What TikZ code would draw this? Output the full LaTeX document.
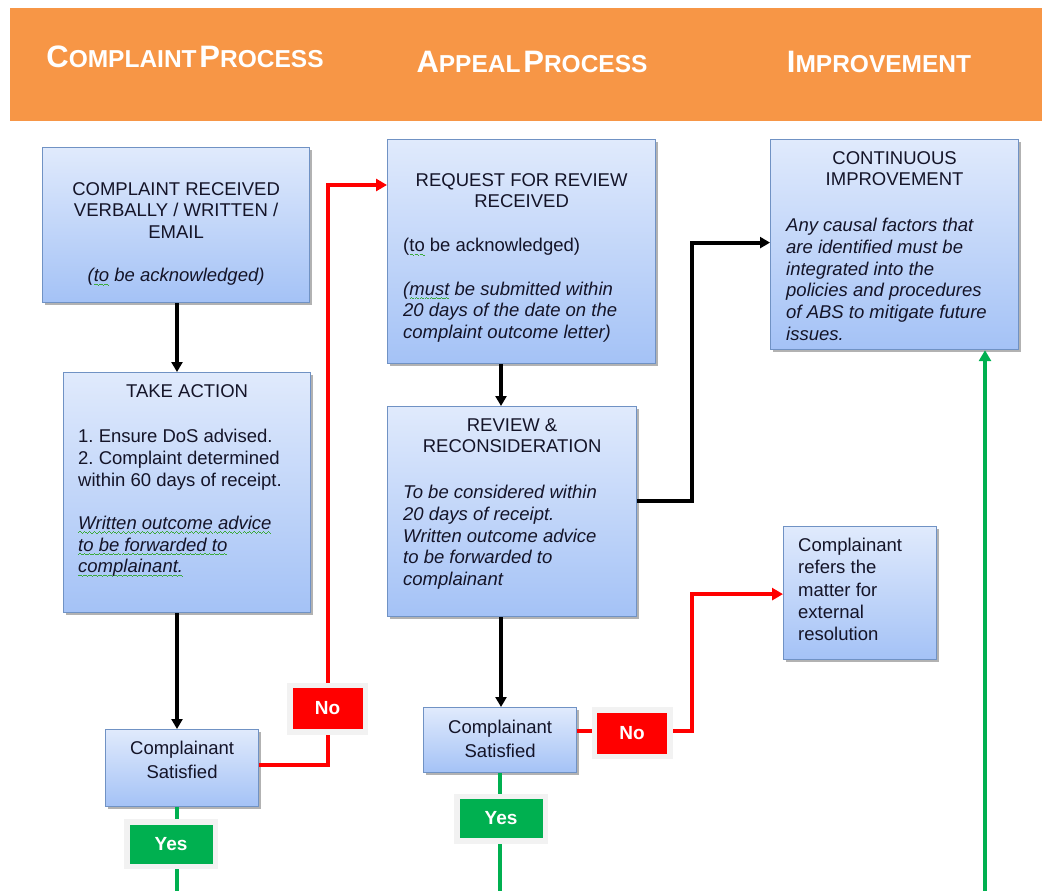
\documentclass[tikz,border=0pt]{standalone}
\usepackage{fontspec}
\setmainfont{Liberation Sans}
\usetikzlibrary{arrows.meta,calc,shadows}

\definecolor{hdr}{RGB}{247,150,70}
\definecolor{boxtop}{RGB}{224,234,252}
\definecolor{boxbot}{RGB}{164,194,246}
\definecolor{boxline}{RGB}{112,146,196}
\definecolor{nored}{RGB}{255,0,0}
\definecolor{yesgreen}{RGB}{0,176,80}
\definecolor{txtc}{RGB}{20,20,40}
\definecolor{spellg}{RGB}{60,170,60}

\newcommand\HeadSC[2]{{\fontsize{31}{31}\selectfont #1}{\fontsize{24.5}{24.5}\selectfont #2}}
\newsavebox\gwavebox
\newcommand\gwavecell{\hbox{\rule[-3.4pt]{1.2pt}{0.9pt}\rule[-2.8pt]{1.2pt}{0.9pt}\rule[-3.4pt]{1.2pt}{0.9pt}\rule[-4.0pt]{1.2pt}{0.9pt}}}
\newcommand\gwave[1]{\leavevmode\sbox\gwavebox{#1}\rlap{\textcolor{spellg}{\xleaders\gwavecell\hskip\wd\gwavebox}}\usebox\gwavebox}

\begin{document}
\begin{tikzpicture}[x=1pt,y=-1pt,
  box/.style={draw=boxline, line width=1.2pt, top color=boxtop, bottom color=boxbot,
    anchor=north west, inner sep=0pt,
    drop shadow={shadow xshift=2.5pt, shadow yshift=-2.5pt, fill=black, opacity=0.3}},
  txt/.style={inner sep=0pt, text=txtc, font=\frenchspacing\fontsize{18.5}{21.7}\selectfont},
  ctxt/.style={txt, align=center, anchor=north},
  ltxt/.style={txt, align=left, anchor=north west},
  htxt/.style={inner sep=0pt, text=white, font=\bfseries, anchor=base},
  lbl/.style={line width=5.5pt, draw=black!5, inner sep=0pt, text=white,
    font=\bfseries\fontsize{19}{19}\selectfont,
    drop shadow={shadow xshift=3pt, shadow yshift=-3pt, fill=black!50!olive, opacity=0.45}},
  nolbl/.style={lbl, fill=nored, minimum width=75.5pt, minimum height=46.5pt},
  yeslbl/.style={lbl, fill=yesgreen, minimum width=88.5pt, minimum height=44.5pt},
  blk/.style={draw=black, line width=4pt, -{Triangle[length=10pt,width=11pt]}},
  redl/.style={draw=nored, line width=4pt},
  redarr/.style={redl, -{Triangle[length=11pt,width=12pt]}},
  grnl/.style={draw=yesgreen, line width=3.8pt},
  grnarr/.style={grnl, -{Triangle[length=11pt,width=12pt]}}
]
\useasboundingbox (0,0) rectangle (1042,891);

% header band
\fill[hdr] (10,8) rectangle (1042,121);
\node[htxt] (h1) at (185,68) {\HeadSC{C}{OMPLAINT} \HeadSC{P}{ROCESS}};
\node[htxt] (h2) at (532,73) {\HeadSC{A}{PPEAL} \HeadSC{P}{ROCESS}};
\node[htxt] (h3) at (879,73) {\HeadSC{I}{MPROVEMENT}};

% column coordinates
\coordinate (colL) at (177,0);
\coordinate (colM) at (501,0);
\coordinate (colR) at (985,0);
\coordinate (endL) at (177,891);
\coordinate (endM) at (500,891);
\coordinate (endR) at (985,891);

% boxes
\node[box, minimum width=267pt, minimum height=155pt] (b1) at (42,147) {};
\node[box, minimum width=247pt, minimum height=240pt] (b2) at (63,372) {};
\node[box, minimum width=153pt, minimum height=77pt] (b3) at (105,729) {};
\node[box, minimum width=268pt, minimum height=224pt] (b4) at (387,139) {};
\node[box, minimum width=249pt, minimum height=210pt] (b5) at (387,406) {};
\node[box, minimum width=248pt, minimum height=210pt] (b6) at (770,139) {};
\node[box, minimum width=153pt, minimum height=133pt] (b7) at (783,526) {};
\node[box, minimum width=153pt, minimum height=65pt] (b8) at (423,707) {};

% box texts
\node[ctxt] (t1) at ($(b1.north)+(0,35)$) {COMPLAINT RECEIVED\\VERBALLY / WRITTEN /\\EMAIL\\[21.7pt]\textit{(\gwave{to} be acknowledged)}};
\node[ctxt] (t2a) at ($(b2.north)+(0,12)$) {TAKE ACTION};
\node[ltxt] (t2b) at (78,429) {1. Ensure DoS advised.\\2. Complaint determined\\within 60 days of receipt.\\[21.7pt]\textit{\gwave{Written outcome advice}}\\\textit{\gwave{to be forwarded to}}\\\textit{\gwave{complainant.}}};
\node[ctxt, font=\fontsize{18.5}{23.5}\selectfont] (t3) at ($(b3.north)+(0,12)$) {Complainant\\Satisfied};
\node[ctxt] (t4a) at ($(b4.north)+(0,34)$) {REQUEST FOR REVIEW\\RECEIVED};
\node[ltxt] (t4b) at (403,238) {(\gwave{to} be acknowledged)\\[21.7pt]\textit{(\gwave{must} be submitted within}\\\textit{20 days of the date on the}\\\textit{complaint outcome letter)}};
\node[ctxt] (t5a) at ($(b5.north)+(0,12)$) {REVIEW \&\\RECONSIDERATION};
\node[ltxt] (t5b) at (403,485) {\textit{To be considered within}\\\textit{20 days of receipt.}\\\textit{Written outcome advice}\\\textit{to be forwarded to}\\\textit{complainant}};
\node[ctxt] (t6a) at ($(b6.north)+(0,12)$) {CONTINUOUS\\IMPROVEMENT};
\node[ltxt] (t6b) at (786,218) {\textit{Any causal factors that}\\\textit{are identified must be}\\\textit{integrated into the}\\\textit{policies and procedures}\\\textit{of ABS to mitigate future}\\\textit{issues.}};
\node[ltxt, font=\fontsize{18.5}{22.2}\selectfont] (t7) at (798,538) {Complainant\\refers the\\matter for\\external\\resolution};
\node[ctxt, font=\fontsize{18.5}{23.5}\selectfont] (t8) at ($(b8.north)+(0,13)$) {Complainant\\Satisfied};

% black connectors
\draw[blk] (b1.south -| colL) -- (b2.north -| colL);
\draw[blk] (b2.south -| colL) -- (b3.north -| colL);
\draw[blk] (b4.south -| colM) -- (b5.north -| colM);
\draw[blk] (b5.south -| colM) -- (b8.north -| colM);
\draw[blk] ($(b5.east)+(0,-11)$) -| ($(b6.west)+(-78,-2)$) -- ($(b6.west)+(0,-2)$);

% red connectors
\draw[redarr] ($(b3.east)+(0,-3)$) -| ($(b4.north west)+(-59,46)$) -- ($(b4.north west)+(0,46)$);
\draw[redarr] ($(b8.east)+(0,-9)$) -| ($(b7.west)+(-91,1)$) -- ($(b7.west)+(0,1)$);

% green connectors
\draw[grnl] (b3.south -| colL) -- (endL);
\draw[grnl] (b8.south -| endM) -- (endM);
\draw[grnarr] (endR) -- (b6.south -| colR);

% labels
\node[nolbl] (no1) at (327.5,708.5) {No};
\node[nolbl] (no2) at (632,733) {No};
\node[yeslbl] (yes1) at (171,844) {Yes};
\node[yeslbl] (yes2) at (501,818.5) {Yes};
\end{tikzpicture}
\end{document}
